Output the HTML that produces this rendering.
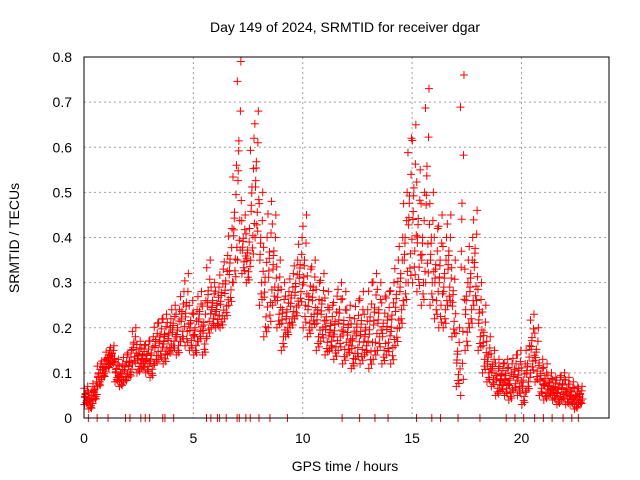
<!DOCTYPE html>
<html><head><meta charset="utf-8"><style>
body{margin:0;background:#fff}
svg{display:block;font-family:"Liberation Sans",sans-serif}
</style></head><body>
<svg id="chart" width="640" height="480">
<text x="345" y="32" text-anchor="middle" font-size="14">Day 149 of 2024, SRMTID for receiver dgar</text>
<text x="345" y="471" text-anchor="middle" font-size="14">GPS time / hours</text>
<text transform="translate(19,238) rotate(-90)" text-anchor="middle" font-size="14">SRMTID / TECUs</text>
<g id="grid"></g><g id="marks"></g>
<rect x="84" y="57" width="525" height="361" fill="none" stroke="#000"/>
<g id="ticks"></g>
</svg>
<script>
const xTicks=[0,5,10,15,20];
const yTicks=[0,0.1,0.2,0.3,0.4,0.5,0.6,0.7,0.8];
const yTickLabels=["0","0.1","0.2","0.3","0.4","0.5","0.6","0.7","0.8"];
const binStart=0, binStep=0.2;
const lowVals=[.03,.02,.04,.07,.09,.11,.12,.08,.07,.08,.09,.12,.1,.11,.1,.09,.12,.13,.12,.14,.15,.14,.17,.16,.15,.14,.17,.14,.18,.2,.2,.2,.22,.25,.3,.35,.32,.3,.35,.4,.25,.18,.2,.25,.2,.15,.18,.2,.22,.25,.2,.18,.2,.15,.17,.14,.15,.13,.15,.12,.14,.11,.13,.12,.14,.11,.13,.15,.12,.14,.12,.16,.2,.25,.3,.3,.28,.25,.3,.25,.22,.2,.2,.25,.18,.07,.05,.15,.2,.25,.15,.1,.08,.07,.05,.06,.05,.04,.06,.05,.03,.06,.1,.08,.05,.04,.05,.04,.03,.04,.03,.03,.02,.03];
const highVals=[.07,.06,.08,.12,.13,.15,.16,.13,.12,.14,.15,.2,.17,.16,.17,.18,.21,.22,.23,.22,.25,.24,.28,.32,.26,.24,.28,.26,.35,.3,.29,.33,.36,.42,.56,.79,.45,.42,.62,.68,.5,.4,.48,.45,.35,.3,.28,.32,.35,.4,.45,.33,.35,.3,.32,.28,.25,.27,.3,.28,.25,.22,.26,.28,.24,.3,.32,.3,.27,.28,.3,.35,.4,.5,.62,.65,.55,.5,.73,.5,.42,.45,.4,.45,.35,.2,.76,.35,.4,.46,.3,.25,.18,.15,.13,.12,.13,.12,.14,.15,.12,.16,.23,.2,.13,.12,.1,.09,.09,.1,.09,.08,.07,.07];
const zeroTimes=[0.2,0.6,1.1,1.9,2.1,2.6,2.8,3.0,3.6,3.7,4.1,5.6,5.8,6.1,6.2,6.5,7.0,7.1,7.4,7.6,8.0,8.5,9.3,11.8,12.6,13.3,13.9,15.2,15.9,16.3,17.1,18.1,19.3,19.7,20.1,20.6,21.0,21.4,21.9,22.3,22.6];
const X=h=>84+h*(525/24), Y=v=>418-v*(361/0.8);
const NS="http://www.w3.org/2000/svg";
const grid=document.getElementById('grid'),ticks=document.getElementById('ticks'),marks=document.getElementById('marks');
function mk(tag,at,par){const e=document.createElementNS(NS,tag);for(const k in at)e.setAttribute(k,at[k]);par.appendChild(e);return e;}
xTicks.forEach(t=>{
 const l=mk('line',{x1:X(t),x2:X(t),y1:57,y2:418,stroke:'#a0a0a0','stroke-dasharray':'2,3'},grid);
 
 
 const tx=mk('text',{x:X(t),y:443,'text-anchor':'middle','font-size':14},ticks);tx.textContent=t;
 
 
});
yTicks.forEach((t,i)=>{
 const l=mk('line',{x1:84,x2:609,y1:Y(t),y2:Y(t),stroke:'#a0a0a0','stroke-dasharray':'2,3'},grid);
 
 
 const tx=mk('text',{x:72,y:Y(t)+5,'text-anchor':'end','font-size':14},ticks);tx.textContent=yTickLabels[i];
 
 
});
const fr=[0,0.55,0.2,1,0.4,0.1,0.75,0.3,0.9,0.6,0.05,0.45];
const fx=[0.1,0.35,0.6,0.85,0.2,0.5,0.75,0.95,0.05,0.4,0.7,0.25];
let d='';
lowVals.forEach((lo,i)=>{
 const hi=highVals[i],t=binStart+i*binStep;
 for(let k=0;k<fr.length;k++){
  const v=lo+(hi-lo)*fr[k], x=X(t+binStep*fx[k]), y=Y(v);
  d+=`M${x-4},${y}h8M${x},${y-4}v8`;
 }
});
zeroTimes.forEach(t=>{const x=X(t);d+=`M${x},414v8`;});
const p=mk('path',{d:d,stroke:'#f00','stroke-width':1,fill:'none'},marks);


</script>
</body></html>
